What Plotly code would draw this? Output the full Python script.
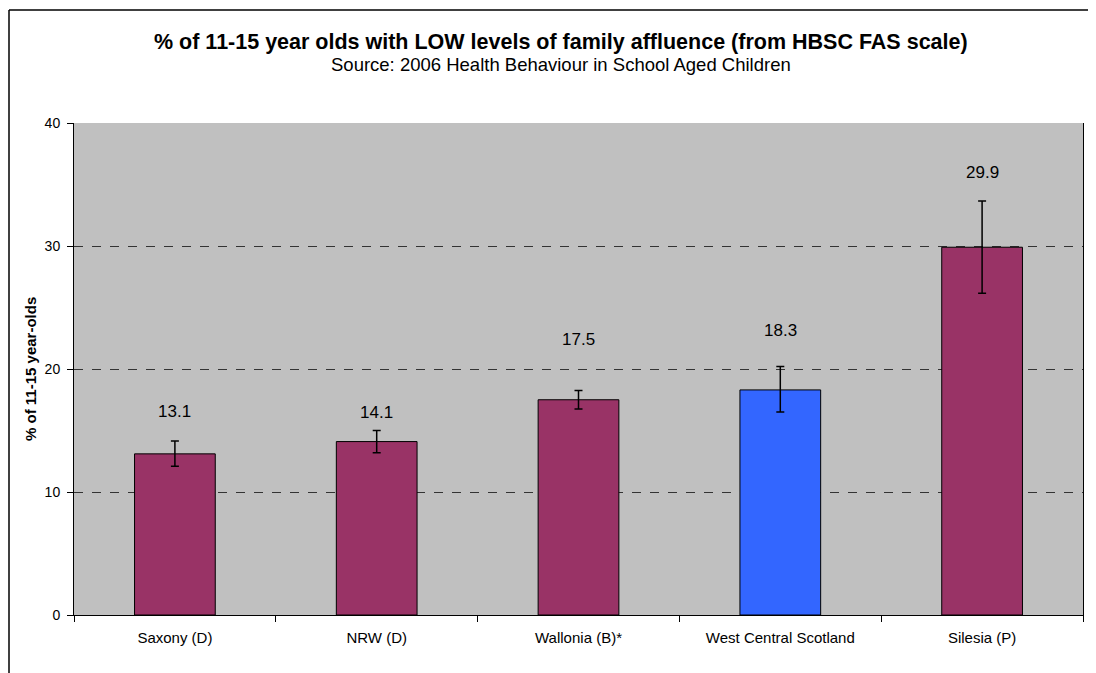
import plotly.graph_objects as go

categories = ["Saxony (D)", "NRW (D)", "Wallonia (B)*", "West Central Scotland", "Silesia (P)"]
values = [13.1, 14.1, 17.5, 18.3, 29.9]
err_plus = [1.05, 0.9, 0.75, 1.9, 3.75]
err_minus = [1.0, 0.9, 0.75, 1.8, 3.75]
label_y = [16.55, 16.47, 22.4, 23.1, 35.96]
bar_colors = ["#993366", "#993366", "#993366", "#3366FF", "#993366"]
y_ticks = [0, 10, 20, 30, 40]

FONT = "Arial, Liberation Sans, sans-serif"

fig = go.Figure()
fig.add_trace(go.Bar(
    x=categories, y=values,
    marker=dict(color=bar_colors, line=dict(color="black", width=1)),
    error_y=dict(type="data", symmetric=False, array=err_plus, arrayminus=err_minus,
                 color="black", thickness=1.5, width=4),
    width=0.4,
    hoverinfo="x+y",
))

for c, v, ly in zip(categories, values, label_y):
    fig.add_annotation(x=c, y=ly, text=f"{v:.1f}", showarrow=False,
                       font=dict(family=FONT, size=17, color="black"),
                       xanchor="center", yanchor="middle")

# page has an 8px body margin: lay out in figure coordinates = page - 8
OFF = 8
W, H = 1096 - OFF, 673 - OFF
L, T = 74 - OFF, 123 - OFF
plot_right, plot_bottom = 1083 - OFF, 615 - OFF
R, B = W - plot_right, H - plot_bottom
pw, ph = plot_right - L, plot_bottom - T

def px(x):
    return (x - OFF - L) / pw

def py(y):
    return (plot_bottom - (y - OFF)) / ph

fig.add_annotation(xref="paper", yref="paper", x=px(561), y=py(42),
                   text="<b>% of 11-15 year olds with LOW levels of family affluence (from HBSC FAS scale)</b>",
                   showarrow=False, xanchor="center", yanchor="middle",
                   font=dict(family=FONT, size=21.5, color="black"))
fig.add_annotation(xref="paper", yref="paper", x=px(561), y=py(64),
                   text="Source: 2006 Health Behaviour in School Aged Children",
                   showarrow=False, xanchor="center", yanchor="middle",
                   font=dict(family=FONT, size=18.5, color="black"))
fig.add_annotation(xref="paper", yref="paper", x=px(30), y=0.5,
                   text="<b>% of 11-15 year-olds</b>", textangle=-90,
                   showarrow=False, xanchor="center", yanchor="middle",
                   font=dict(family=FONT, size=15, color="black"))

# outer chart frame (left and top edges visible)
fig.add_shape(type="line", xref="paper", yref="paper", x0=px(9), y0=py(10), x1=px(1120), y1=py(10),
              line=dict(color="black", width=1.5))
fig.add_shape(type="line", xref="paper", yref="paper", x0=px(9), y0=py(10), x1=px(9), y1=py(720),
              line=dict(color="black", width=1.5))

fig.update_layout(
    width=W, height=H,
    margin=dict(l=L, r=R, t=T, b=B),
    paper_bgcolor="white", plot_bgcolor="#C0C0C0",
    showlegend=False,
    bargap=0.6,
    font=dict(family=FONT, size=14, color="black"),
)
fig.update_xaxes(
    type="category", showline=True, linecolor="black", linewidth=1,
    ticks="outside", tickson="boundaries", ticklen=6, tickcolor="black",
    showgrid=False, tickfont=dict(size=15), ticklabelstandoff=9, fixedrange=True,
)
fig.update_yaxes(
    range=[0, 40], tickvals=y_ticks, showline=True, linecolor="black", linewidth=1,
    mirror=True, ticks="outside", ticklen=6, tickcolor="black",
    showgrid=True, gridcolor="#333333", gridwidth=1, griddash="dash",
    zeroline=False, tickfont=dict(size=14), ticklabelstandoff=4, fixedrange=True,
)

fig.write_html("out.html")
